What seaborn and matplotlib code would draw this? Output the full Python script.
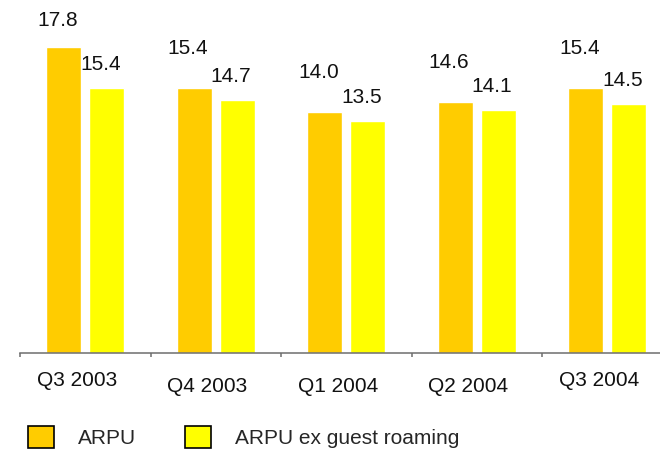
import pandas as pd
import matplotlib
matplotlib.use('Agg')
import matplotlib.pyplot as plt
import matplotlib.patches as mpatches
from matplotlib.transforms import blended_transform_factory
import seaborn as sns

# Data
quarters = ['Q3 2003', 'Q4 2003', 'Q1 2004', 'Q2 2004', 'Q3 2004']
arpu = [17.8, 15.4, 14.0, 14.6, 15.4]
arpu_ex_roaming = [15.4, 14.7, 13.5, 14.1, 14.5]
series_names = ['ARPU', 'ARPU ex guest roaming']
colors = ['#FFCC00', '#FFFF00']

df = pd.DataFrame({
    'Quarter': quarters * 2,
    'Value': arpu + arpu_ex_roaming,
    'Series': [series_names[0]] * 5 + [series_names[1]] * 5,
})

sns.set_style('white')
plt.rcParams['font.family'] = ['Liberation Sans', 'DejaVu Sans']

fig = plt.figure(figsize=(6.6, 4.49), dpi=100)
ax = fig.add_axes([20 / 660, 96 / 449, 640 / 660, 353 / 449])

sns.barplot(x='Quarter', y='Value', hue='Series', data=df, palette=colors,
            width=0.66, gap=0.19, saturation=1, legend=False, ax=ax)

ax.set_xlim(-0.5, -0.5 + 640 / 130.5)
ax.set_ylim(0, 20.52)

# value labels (points above the bar top, as placed in the original)
lifts = [[15, 24.5, 24.5, 24.5, 24.5], [13, 13, 13, 13, 13]]
for cont, lift in zip(ax.containers, lifts):
    for bar, val, dy in zip(cont, cont.datavalues, lift):
        ax.annotate(f'{val:.1f}', (bar.get_x() + bar.get_width() / 2, val),
                    xytext=(-4.5, dy), textcoords='offset points',
                    ha='center', va='baseline', fontsize=15, color='#111111')

# axis styling
for s in ['left', 'top', 'right']:
    ax.spines[s].set_visible(False)
ax.spines['bottom'].set_color('#6e6e6e')
ax.spines['bottom'].set_linewidth(1.1)
ax.set_yticks([])
ax.set_xticks([-0.5, 0.5, 1.5, 2.5, 3.5])
ax.set_xticklabels([])
ax.tick_params(axis='x', direction='out', length=3, width=1.1, color='#6e6e6e', bottom=True)
ax.set_xlabel('')
ax.set_ylabel('')

# quarter labels, slightly staggered like the original
trans = blended_transform_factory(ax.transData, ax.transAxes)
drops = [24, 28, 28, 28, 24]
for i, (q, dy) in enumerate(zip(quarters, drops)):
    ax.annotate(q, (i, 0), xycoords=trans, xytext=(-6, -dy),
                textcoords='offset points', ha='center', va='baseline',
                fontsize=15, color='#111111', annotation_clip=False)

handles = [mpatches.Patch(facecolor=c, edgecolor='black', linewidth=1.2, label=n)
           for c, n in zip(colors, series_names)]
fig.legend(handles=handles, loc='center left', bbox_to_anchor=(28 / 660, 12 / 449),
           ncol=2, frameon=False, fontsize=15, handlelength=1.25, handleheight=1.2,
           handletextpad=1.15, columnspacing=2.35, borderpad=0, borderaxespad=0)

fig.savefig('out.png', dpi=100)
